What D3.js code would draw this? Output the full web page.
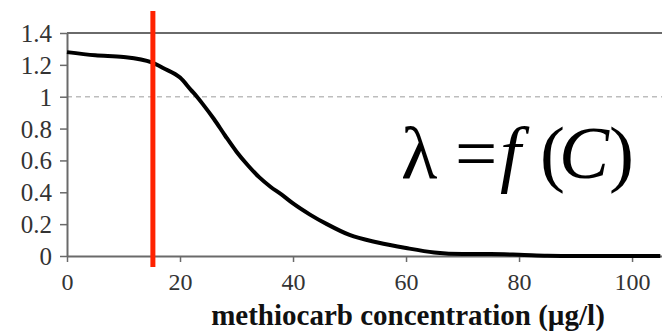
<!DOCTYPE html>
<html>
<head>
<meta charset="utf-8">
<script src="https://cdn.jsdelivr.net/npm/d3@7"></script>
<style>
  html, body { margin: 0; padding: 0; background: #fff; }
  svg { display: block; }
  text { font-family: "Liberation Serif", "Times New Roman", serif; }
</style>
</head>
<body>
<svg id="chart" width="662" height="331"></svg>
<script>
// Growth rate lambda as a function of methiocarb concentration C
const concentration = [0, 5, 10, 15, 17, 20, 22, 23, 24, 26, 28, 30, 32, 34, 36, 38, 40, 43, 46, 50, 55, 60, 65, 70, 75, 80, 85, 90, 95, 100, 105];
const lambdaValues = [1.28, 1.26, 1.25, 1.215, 1.18, 1.12, 1.04, 1.0, 0.955, 0.86, 0.755, 0.655, 0.57, 0.495, 0.435, 0.385, 0.33, 0.26, 0.2, 0.132, 0.085, 0.05, 0.022, 0.012, 0.012, 0.008, 0.002, 0, 0, 0, 0];
const xTicks = [0, 20, 40, 60, 80, 100];
const yTicks = [0, 0.2, 0.4, 0.6, 0.8, 1, 1.2, 1.4];
const referenceLevel = 1;
const markedConcentration = 15.2;
const xTitle = "methiocarb concentration (µg/l)";

const svg = d3.select("#chart");
const W = 662, H = 331;
const m = { left: 67, right: 0, top: 33, bottom: 75 };
const serif = "'Liberation Serif', 'Times New Roman', serif";

const x = d3.scaleLinear().domain([0, 105.3]).range([m.left, W - m.right]);
const y = d3.scaleLinear().domain([0, 1.4]).range([H - m.bottom, m.top]);

const axisColor = "#6a6a6a";

// reference line at lambda = 1
svg.append("line")
  .attr("x1", x(0)).attr("x2", W)
  .attr("y1", y(referenceLevel)).attr("y2", y(referenceLevel))
  .attr("stroke", "#bdbdbd").attr("stroke-width", 1.5)
  .attr("stroke-dasharray", "5,4");

// top frame line
svg.append("line")
  .attr("x1", x(0)).attr("x2", W)
  .attr("y1", y(1.4)).attr("y2", y(1.4))
  .attr("stroke", axisColor).attr("stroke-width", 2);

// y axis
const yAxis = d3.axisLeft(y).tickValues(yTicks).tickSize(7).tickSizeOuter(0)
  .tickFormat(d => String(+d.toFixed(1)));
const gy = svg.append("g").attr("transform", `translate(${x(0)},0)`).call(yAxis)
  .attr("font-family", serif).attr("font-size", 25);
gy.select(".domain").attr("stroke", axisColor).attr("stroke-width", 2);
gy.selectAll(".tick line").attr("stroke", axisColor).attr("stroke-width", 1.5);
gy.selectAll(".tick text")
  .attr("x", -15)
  .attr("dy", "0.34em")
  .attr("fill", "#333")
  .style("font-size", "25px")
  .style("font-family", serif);

// x axis
const xAxis = d3.axisBottom(x).tickValues(xTicks).tickSize(6).tickSizeOuter(0);
const gx = svg.append("g").attr("transform", `translate(0,${y(0)})`).call(xAxis)
  .attr("font-family", serif).attr("font-size", 24);
gx.select(".domain").attr("stroke", axisColor).attr("stroke-width", 2);
gx.selectAll(".tick line").attr("stroke", axisColor).attr("stroke-width", 1.5);
gx.selectAll(".tick text")
  .attr("y", 17)
  .attr("dy", "0.71em")
  .attr("fill", "#333")
  .style("font-size", "24px")
  .style("font-family", serif);

// x axis title
svg.append("text")
  .attr("x", 408).attr("y", 325)
  .attr("text-anchor", "middle")
  .attr("font-weight", "bold")
  .attr("font-size", 29)
  .style("font-family", serif)
  .attr("fill", "#111")
  .text(xTitle);

// lambda curve
const line = d3.line()
  .x((d, i) => x(concentration[i]))
  .y(d => y(d))
  .curve(d3.curveMonotoneX);
svg.append("path")
  .datum(lambdaValues)
  .attr("d", line)
  .attr("fill", "none")
  .attr("stroke", "#000")
  .attr("stroke-width", 4)
  .attr("stroke-linejoin", "round");

// marked concentration
svg.append("line")
  .attr("x1", x(markedConcentration)).attr("x2", x(markedConcentration))
  .attr("y1", 11).attr("y2", 267)
  .attr("stroke", "#ff2200").attr("stroke-width", 5);

// formula: lambda = f(C)
const formula = [
  { t: "λ", x: 401, italic: false },
  { t: "=", x: 455, italic: false },
  { t: "f", x: 500, italic: true },
  { t: "(", x: 540, italic: false },
  { t: "C", x: 559, italic: true },
  { t: ")", x: 609, italic: false }
];
const f = svg.append("text")
  .attr("y", 178)
  .attr("font-size", 75)
  .style("font-family", serif)
  .attr("fill", "#000");
formula.forEach(p => {
  f.append("tspan")
    .attr("x", p.x)
    .attr("font-style", p.italic ? "italic" : "normal")
    .text(p.t);
});
</script>
</body>
</html>
